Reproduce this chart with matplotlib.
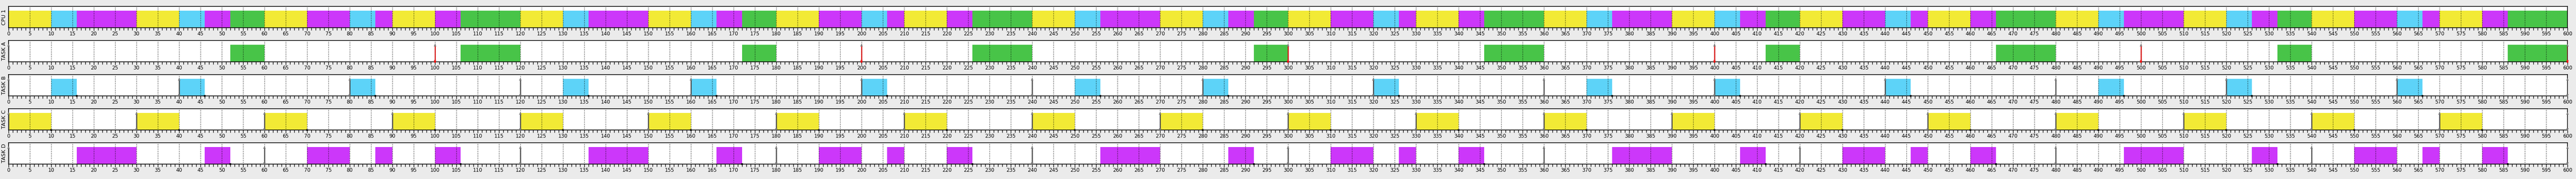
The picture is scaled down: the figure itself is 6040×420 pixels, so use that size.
import matplotlib
matplotlib.use("Agg")
import matplotlib.pyplot as plt
from matplotlib.ticker import MultipleLocator

# ---------------- data ----------------
tasks = ["TASK A", "TASK B", "TASK C", "TASK D"]
colors = ["#48C448", "#5DD3F8", "#F2EA35", "#CC37FA"]

a_start = [52, 106, 172, 226, 292, 346, 412, 466, 532, 586]
a_end   = [60, 120, 180, 240, 300, 360, 420, 480, 540, 600]

b_start = [10, 40, 80, 130, 160, 200, 250, 280, 320, 370, 400, 440, 490, 520, 560]
b_end   = [16, 46, 86, 136, 166, 206, 256, 286, 326, 376, 406, 446, 496, 526, 566]

c_start = [0, 30, 60, 90, 120, 150, 180, 210, 240, 270, 300, 330, 360, 390,
           420, 450, 480, 510, 540, 570]
c_end   = [10, 40, 70, 100, 130, 160, 190, 220, 250, 280, 310, 340, 370, 400,
           430, 460, 490, 520, 550, 580]

d_start = [16, 46, 70, 86, 100, 136, 166, 190, 206, 220, 256, 286, 310, 326,
           340, 376, 406, 430, 446, 460, 496, 526, 550, 566, 580]
d_end   = [30, 52, 80, 90, 106, 150, 172, 200, 210, 226, 270, 292, 320, 330,
           346, 390, 412, 440, 450, 466, 510, 532, 560, 570, 586]

a_release = [0, 100, 200, 300, 400, 500, 600]
b_release = [0, 40, 80, 120, 160, 200, 240, 280, 320, 360, 400, 440, 480, 520, 560, 600]
c_release = [0, 30, 60, 90, 120, 150, 180, 210, 240, 270, 300, 330, 360, 390,
             420, 450, 480, 510, 540, 570, 600]
d_release = [0, 60, 120, 180, 240, 300, 360, 420, 480, 540, 600]

a_missed = [100, 200, 300, 400, 500, 600]   # deadline misses (red)

a_done = []
b_done = [16, 46, 86, 136, 166, 206, 256, 286, 326, 376, 406, 446, 496, 526, 566]
c_done = [10, 40, 70, 100, 130, 160, 190, 220, 250, 280, 310, 340, 370, 400,
          430, 460, 490, 520, 550, 580]
d_done = [52, 106, 172, 226, 292, 346, 412, 466, 532, 586]

t_min, t_max = 0, 600
# --------------------------------------

starts = [a_start, b_start, c_start, d_start]
ends = [a_end, b_end, c_end, d_end]
releases = [a_release, b_release, c_release, d_release]
dones = [a_done, b_done, c_done, d_done]
missed = [a_missed, [], [], []]

plt.rcParams['font.family'] = ['DejaVu Sans']
W, H = 6040, 420
fig = plt.figure(figsize=(W / 100, H / 100), dpi=100, facecolor="#EBEBEB")

left_px, right_px = 20, 6020
row_top = [15, 95, 175, 255, 335]
row_h = 50


def make_ax(i, label):
    ax = fig.add_axes([left_px / W, 1 - (row_top[i] + row_h) / H,
                       (right_px - left_px) / W, row_h / H])
    ax.set_facecolor("white")
    ax.set_xlim(t_min, t_max)
    ax.set_ylim(0, 1.25)
    ax.set_yticks([])
    ax.xaxis.set_major_locator(MultipleLocator(5))
    ax.xaxis.set_minor_locator(MultipleLocator(1))
    ax.tick_params(axis="x", which="major", direction="out", length=5,
                   width=1, labelsize=8.5, pad=1, color="black")
    ax.tick_params(axis="x", which="minor", direction="out", length=4,
                   width=1, color="black")
    for s in ax.spines.values():
        s.set_color("black")
        s.set_linewidth(1.2)
    ax.grid(True, which="major", axis="x", color="black", linestyle=(0, (1, 2)),
            linewidth=1, zorder=3)
    ax.set_axisbelow(False)
    ax.set_ylabel(label, fontsize=9, labelpad=3)
    return ax


# CPU row
ax = make_ax(0, "CPU 1")
for k in range(len(tasks)):
    ax.broken_barh([(s, e - s) for s, e in zip(starts[k], ends[k])], (0, 1),
                   facecolors=colors[k], edgecolor="none", zorder=1)

# task rows
for k, name in enumerate(tasks):
    ax = make_ax(k + 1, name)
    ax.broken_barh([(s, e - s) for s, e in zip(starts[k], ends[k])], (0, 1),
                   facecolors=colors[k], edgecolor="none", zorder=1)
    for r in releases[k]:
        red = r in missed[k]
        lc = "#D81010" if red else "#4A4A4A"
        ax.vlines(r, 0, 1, color=lc, linewidth=1.8, zorder=5)
        ax.plot([r], [0.97], marker="^", markersize=5, color="#7A7A7A",
                markeredgewidth=0, zorder=6, clip_on=False)
        if r != t_min:
            ax.plot([r], [0.03], marker="v", markersize=5,
                    color="#F03030" if red else "#7A7A7A",
                    markeredgewidth=0, zorder=6, clip_on=False)
        if red:
            ax.plot([r], [0], marker="s", markersize=3.5, color="#FF0000",
                    markeredgewidth=0, zorder=7, clip_on=False)
    for d in dones[k]:
        ax.plot([d], [0], marker="s", markersize=3, color="black",
                markeredgewidth=0, zorder=7, clip_on=False)

fig.savefig("out.png", dpi=100, facecolor=fig.get_facecolor())
